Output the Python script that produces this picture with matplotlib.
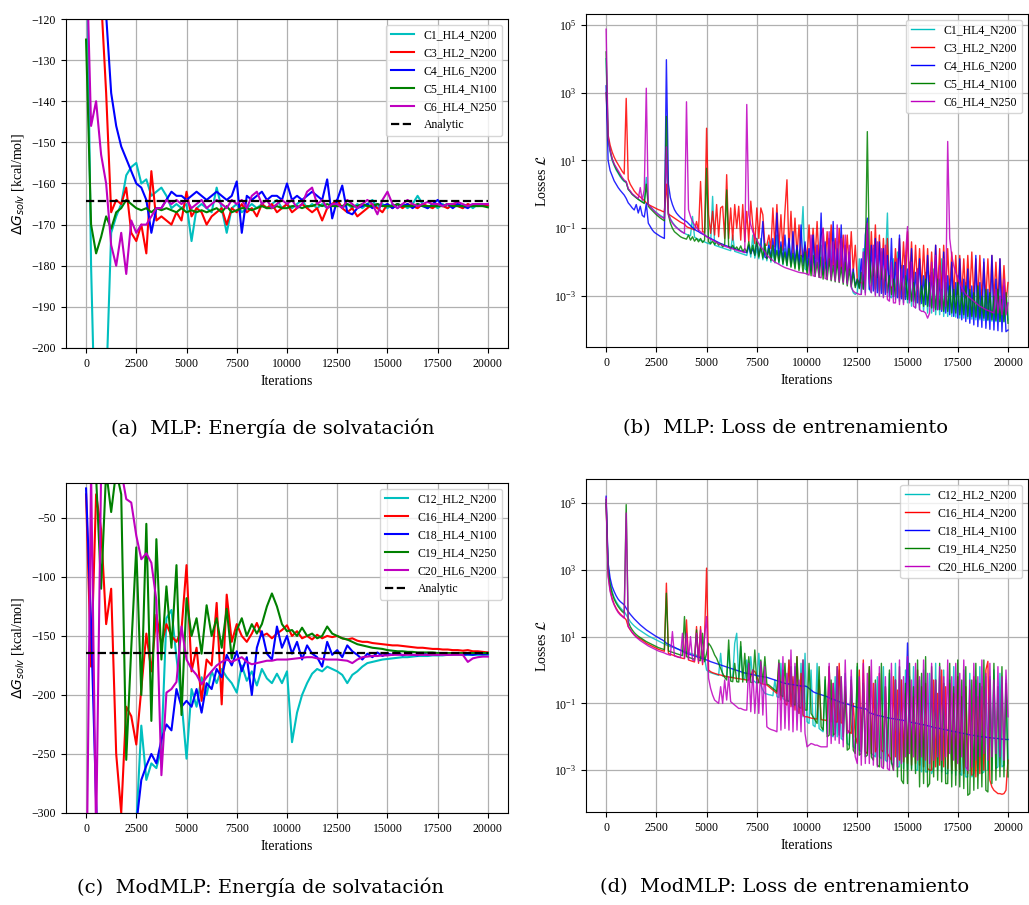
import numpy as np
import matplotlib
matplotlib.use("Agg")
import matplotlib.pyplot as plt
from matplotlib.ticker import NullLocator

plt.rcParams['font.family'] = 'serif'
plt.rcParams['font.serif'] = ['Liberation Serif', 'DejaVu Serif']

# sampling of the read-off values
E_STEP = 250   # iterations between energy samples
L_STEP = 100   # iterations between loss samples
ANALYTIC = -164.3

COLORS = ['c', 'r', 'b', 'g', 'm']

mlp_labels = ['C1_HL4_N200', 'C3_HL2_N200', 'C4_HL6_N200', 'C5_HL4_N100', 'C6_HL4_N250']
mod_labels = ['C12_HL2_N200', 'C16_HL4_N200', 'C18_HL4_N100', 'C19_HL4_N250', 'C20_HL6_N200']

# ---- (a) MLP solvation energy [kcal/mol], one value every 250 iterations
mlp_e_c1 = [-90, -180, -230, -260, -210, -172, -168, -165, -158, -156,
            -155, -160, -159, -163, -162, -161, -163, -166, -165, -166,
            -165, -174, -166, -165, -166, -167, -161, -166, -172, -166,
            -165, -167, -166, -165, -166, -165, -166, -165, -164, -166,
            -165, -166, -165, -164, -166, -165, -166, -165, -166, -165,
            -164, -166, -165, -166, -165, -166, -165, -164, -166, -165,
            -166, -165, -166, -165, -166, -165, -163, -165, -166, -165,
            -166, -165, -166, -165, -165, -166, -165, -166, -165, -165,
            -165.5]
mlp_e_c3 = [-60, -90, -105, -115, -138, -167, -164, -165, -161, -172,
            -174, -170, -177, -157, -169, -168, -169, -170, -167, -169,
            -162, -168, -166, -167, -170, -168, -167, -166, -170, -166,
            -167, -165, -167, -166, -168, -165, -166, -165, -167, -166,
            -165, -167, -166, -165, -166, -167, -166, -169, -166, -165,
            -164, -166, -167, -166, -168, -167, -166, -165, -166, -167,
            -165, -166, -165, -166, -165, -165.5, -166, -165, -165.5, -166,
            -165, -165.5, -166, -165, -165.5, -166, -165, -165.5, -165, -165.5,
            -165.3]
mlp_e_c4 = [-40, -70, -90, -105, -119, -138, -146, -151, -154, -157,
            -160, -161, -164, -172, -166, -166, -164, -162, -163, -163,
            -164, -163, -162, -163, -164, -163, -162, -163, -164, -163,
            -159.5, -172, -163, -164, -163, -162, -164, -163, -163, -164,
            -160, -164, -163, -164, -163, -162, -163, -164, -159, -168.5,
            -164, -160.5, -167, -167.5, -166, -165.5, -165, -166, -165, -165.5,
            -165, -166, -165, -165.5, -165, -166, -165, -165.5, -166, -165,
            -164, -165.5, -165, -166, -165, -165.5, -166, -165, -165.5, -165,
            -165]
mlp_e_c5 = [-125, -170, -177, -173, -168, -171, -167, -166, -164, -165,
            -166, -166.5, -166, -167, -166, -166.5, -166, -166.5, -167, -166,
            -167, -166.5, -167, -166.5, -167, -166.5, -166, -167, -165.5, -167,
            -166.5, -166, -166, -166.5, -166, -165.5, -166, -166, -165.5, -166,
            -166, -165.5, -165.5, -166, -165.5, -165.5, -165, -165.5, -165, -165.5,
            -165.5, -165.5, -165, -165.5, -165.5, -165, -165.5, -165.5, -165, -165.5,
            -165.5, -165.5, -165, -165.5, -165.5, -165.5, -165, -165.5, -165.5, -165.5,
            -165.5, -165.5, -165, -165.5, -165.5, -165.5, -165.5, -165.5, -165.5, -165.5,
            -165.8]
mlp_e_c6 = [-100, -146, -140, -153, -160, -175, -180, -172, -182, -169,
            -172, -170, -170, -168, -166, -166, -164, -165, -164, -165,
            -164, -166, -165, -164, -166, -165, -164, -165, -166, -164,
            -165, -164, -166, -163, -162, -165, -164, -166, -165, -164,
            -165, -164, -166, -165, -162, -161, -165, -164, -166, -165,
            -165, -166, -164, -165, -166, -165, -164, -165, -167.5, -164,
            -162, -165, -166, -165, -164, -165, -165.5, -165, -164.5, -165,
            -165, -165.5, -165, -165, -164.5, -165, -165.5, -165, -165, -165,
            -165]

# ---- (c) ModMLP solvation energy [kcal/mol], one value every 250 iterations
mod_e_c12 = [-500, -470, -440, -420, -400, -380, -360, -345, -330, -320,
             -310, -226, -272, -258, -262, -245, -135, -128, -168, -205,
             -254, -195, -210, -185, -200, -180, -190, -178, -185, -190,
             -198, -175, -188, -180, -192, -178, -186, -190, -182, -190,
             -180, -240, -215, -200, -190, -182, -178, -180, -176, -178,
             -180, -183, -190, -183, -180, -176, -173, -172, -171, -170,
             -169.5, -169, -168.5, -168, -168, -167.5, -167, -167, -167, -166.5,
             -166.5, -166.5, -166, -166, -166, -166, -166, -166, -166, -166,
             -166]
mod_e_c16 = [-30, -176, -30, -60, -140, -110, -250, -300, -210, -218,
             -242, -195, -148, -180, -132, -158, -140, -150, -155, -145,
             -90, -180, -160, -205, -170, -175, -122, -208, -115, -155,
             -140, -150, -155, -148, -139, -150, -148, -152, -148, -145,
             -141, -150, -146, -152, -150, -153, -149, -152, -150, -151,
             -150, -152, -153, -152, -154, -155, -155, -156, -156.5, -157,
             -157.5, -158, -158, -158.5, -159, -159.5, -160, -160, -160.5, -161,
             -161, -161.5, -161.5, -162, -162, -162.5, -162, -163, -163, -163.5,
             -164]
mod_e_c18 = [-25, -140, -290, -400, -420, -430, -430, -420, -400, -380,
             -310, -272, -260, -250, -258, -238, -225, -230, -195, -210,
             -205, -210, -195, -215, -190, -195, -178, -185, -166, -175,
             -163, -180, -168, -200, -160, -146, -165, -170, -142, -160,
             -150, -165, -155, -170, -158, -165, -168, -176, -155, -166,
             -162, -168, -158, -163, -166, -170, -165, -168, -164, -167,
             -165, -166, -164, -166.5, -165, -166, -166.5, -164.5, -166, -165,
             -166, -165, -166, -165.5, -164.5, -166, -165.5, -166, -165, -165.5,
             -165]
mod_e_c19 = [-20, -10, -15, -110, -10, -45, -10, -30, -255, -160,
             -75, -200, -55, -222, -68, -170, -108, -160, -90, -217,
             -118, -150, -135, -165, -124, -150, -135, -160, -127, -169,
             -145, -135, -150, -140, -148, -140, -125, -114, -125, -140,
             -146, -145, -150, -143, -150, -148, -152, -150, -142, -148,
             -150, -152, -153, -155, -157, -158, -159, -160, -160.5, -161,
             -162, -162.5, -163, -163, -163.5, -163.5, -164, -164, -164, -164,
             -164.5, -164.5, -164.5, -164.5, -164.5, -164.5, -164.5, -164.5, -164.5, -164.5,
             -164.5]
mod_e_c20 = [-400, -10, -320, -10, 0, 0, 0, -10, -34, -37,
             -65, -85, -80, -88, -120, -268, -198, -195, -189, -142,
             -170, -178, -183, -191, -185, -180, -175, -172, -170, -172,
             -170, -168, -172, -174, -173, -172, -171, -171, -170, -170,
             -170, -169.5, -169, -168.5, -168, -168, -169, -169.5, -170, -170,
             -170, -170.5, -171, -173, -170, -168, -167.5, -167, -167, -166.5,
             -166.5, -166, -166, -166, -166, -166, -166, -166, -166, -166,
             -166, -166, -166, -166, -166, -166, -172, -169, -168, -167.5,
             -167.5]

# ---- (b) MLP training loss, log10 of the loss every 100 iterations
mlp_l_c1 = [4.0, 1.6, 1.25, 1.0, 0.85, 0.72, 0.62, 0.52, 0.44, 0.38,
            0.35, 0.15, 0.08, 0.0, -0.05, -0.1, -0.14, -0.18, -0.22, -0.25,
            0.5, -0.3, -0.36, -0.42, -0.48, -0.53, -0.58, -0.62, -0.66, -0.7,
            1.2, -0.55, -0.72, -0.82, -0.9, -0.97, -1.02, -1.07, -1.11, -1.15,
            -1.18, -1.2, -1.22, -0.65, -1.26, -1.3, -1.33, -1.36, -1.38, -1.4,
            -1.43, -1.45, -1.47, -0.06, -1.5, -1.52, -1.54, -1.56, -1.58, -1.6,
            -1.62, -1.64, -1.66, -1.2, -1.68, -1.7, -1.72, -1.74, -1.76, -1.78,
            -1.8, -1.5, -1.85, -1.2, -1.88, -1.6, -1.9, -1.3, -1.93, -1.5,
            -1.96, -1.4, -2.0, -1.7, -2.02, -1.2, -2.05, -1.5, -2.08, -1.6,
            -2.1, -1.3, -2.12, -1.7, -2.15, -1.5, -2.18, -1.4, -0.36, -2.2,
            -2.25, -1.6, -2.28, -1.3, -2.32, -1.7, -2.35, -1.5, -2.38, -1.8,
            -2.4, -1.5, -2.42, -1.7, -2.45, -1.4, -2.5, -1.9, -2.55, -1.6,
            -2.6, -1.8, -2.7, -2.9, -2.95, -2.9, -1.9, -2.95, -1.6, -2.9,
            -1.0, -2.8, -2.9, -1.6, -2.95, -1.8, -3.0, -1.7, -3.0, -2.0,
            -0.55, -3.0, -3.05, -1.9, -3.1, -1.7, -3.15, -2.1, -3.2, -1.8,
            -3.2, -2.0, -3.3, -2.3, -3.35, -2.2, -3.4, -2.4, -3.45, -2.3,
            -3.5, -2.4, -3.5, -2.2, -3.55, -2.5, -3.55, -1.9, -3.6, -2.6,
            -3.6, -2.5, -3.6, -2.7, -3.62, -2.4, -3.65, -2.8, -3.65, -2.6,
            -3.67, -2.9, -3.68, -2.7, -3.7, -3.0, -3.7, -2.8, -3.72, -3.0,
            -3.72, -2.9, -3.74, -3.1, -3.75, -2.8, -3.75, -3.0, -3.76, -2.9,
            -3.7]
mlp_l_c3 = [3.0, 1.75, 1.45, 1.25, 1.1, 0.98, 0.88, 0.78, 0.68, 0.6,
            2.83, 0.45, 0.3, 0.2, 0.1, 0.03, -0.03, -0.08, -0.13, -0.18,
            -0.25, -0.3, -0.33, -0.36, -0.39, -0.42, -0.45, -0.47, -0.5, -0.52,
            0.3, -0.58, -0.62, -0.66, -0.7, -0.74, -0.78, -0.82, -0.85, -0.88,
            -0.95, -0.98, -1.0, -1.02, -1.05, -0.8, -1.07, 0.38, -1.1, -1.12,
            1.95, -0.6, -1.15, -0.5, -1.2, -0.3, -1.25, -0.4, -0.35, -1.3,
            0.58, -1.3, -0.4, -1.35, -0.3, -1.0, -0.35, -1.35, -0.3, -1.4,
            -0.5, -1.4, -0.2, -0.9, -1.45, -0.4, -1.3, -0.4, -0.6, -1.5,
            -1.5, -1.2, -1.6, -0.4, -1.55, -0.3, -1.6, -0.6, -1.65, -0.5,
            0.43, -1.7, -0.5, -1.75, -0.7, -1.8, -0.9, -1.8, -1.85, -1.5,
            -1.9, -0.9, -2.0, -1.0, -1.9, -0.8, -2.0, -1.2, -1.0, -2.05,
            -1.1, -2.1, -0.9, -2.1, -1.3, -2.15, -1.0, -2.2, -1.2, -2.2,
            -1.2, -2.25, -1.1, -2.3, -1.5, -2.5, -2.6, -2.6, -2.65, -2.5,
            -1.0, -2.5, -1.1, -2.4, -0.9, -2.45, -1.2, -2.5, -1.3, -2.55,
            -1.3, -2.7, -2.75, -2.7, -1.6, -2.5, -1.3, -2.6, -1.4, -2.5,
            -1.1, -2.6, -1.4, -2.7, -1.5, -2.75, -1.6, -2.8, -1.5, -2.8,
            -1.6, -2.85, -1.7, -2.9, -1.5, -2.9, -1.6, -2.95, -1.5, -2.9,
            -1.6, -2.95, -1.7, -3.0, -1.8, -2.95, -1.8, -3.0, -1.9, -3.05,
            -1.8, -3.0, -1.7, -3.05, -1.9, -3.1, -1.8, -3.1, -2.0, -3.1,
            -1.9, -3.15, -1.8, -3.1, -2.0, -3.2, -1.9, -3.15, -2.1, -3.2,
            -2.6]
mlp_l_c4 = [3.2, 1.0, 0.7, 0.55, 0.4, 0.3, 0.2, 0.12, 0.05, -0.02,
            -0.12, -0.25, -0.32, -0.4, -0.46, -0.3, -0.55, -0.35, -0.62, -0.67,
            -0.27, -0.85, -0.95, -1.05, -1.12, -1.16, -1.2, -1.24, -1.27, -1.3,
            3.97, 0.3, -0.1, -0.3, -0.45, -0.55, -0.62, -0.68, -0.73, -0.77,
            -0.8, -0.86, -0.92, -0.98, -1.03, -1.07, -1.1, -1.14, -1.17, -1.2,
            -1.24, -1.27, -1.3, -1.33, -1.36, -1.39, -1.42, -1.45, -1.47, -1.5,
            -1.52, -1.54, -1.56, -1.58, -1.6, -1.62, -1.64, -1.66, -1.68, -1.7,
            -1.72, -1.5, -1.75, -1.6, -1.78, -1.4, -1.8, -1.55, -0.8, -1.85,
            -1.88, -1.5, -1.9, -1.3, -1.92, -0.55, -1.95, -1.4, -1.98, -1.2,
            -2.0, -1.3, -2.03, -1.1, -2.05, -1.5, -2.08, -0.9, -2.1, -1.4,
            -2.2, -1.6, -2.25, -1.2, -2.3, -1.5, -2.3, -0.55, -2.35, -1.4,
            -2.4, -1.3, -2.42, -0.8, -2.45, -1.6, -2.5, -0.9, -2.55, -1.5,
            -2.6, -1.7, -2.65, -2.2, -2.7, -2.5, -2.75, -1.9, -2.78, -1.2,
            -0.7, -2.8, -1.5, -2.85, -1.3, -2.9, -1.4, -2.92, -1.6, -2.95,
            -1.8, -3.0, -1.3, -3.02, -2.0, -3.05, -1.2, -3.08, -2.1, -3.1,
            -2.2, -3.12, -1.6, -3.15, -2.3, -3.2, -1.9, -3.22, -2.4, -3.25,
            -1.8, -3.3, -2.3, -3.35, -1.5, -3.4, -2.5, -3.45, -1.7, -3.5,
            -2.4, -3.55, -2.0, -3.6, -2.6, -3.65, -1.9, -3.7, -2.5, -3.75,
            -2.2, -3.8, -2.7, -3.85, -1.8, -3.9, -2.6, -3.92, -1.9, -3.95,
            -2.8, -3.98, -1.8, -4.0, -2.5, -4.02, -1.9, -4.05, -2.7, -4.05,
            -4.0]
mlp_l_c5 = [4.2, 1.65, 1.3, 1.05, 0.88, 0.75, 0.65, 0.55, 0.47, 0.4,
            0.36, 0.15, 0.08, 0.0, -0.05, -0.1, -0.15, -0.19, -0.23, -0.27,
            0.3, -0.35, -0.42, -0.48, -0.54, -0.6, -0.65, -0.7, -0.74, -0.78,
            2.3, -0.6, -0.85, -1.0, -1.1, -1.15, -1.2, -1.25, -1.28, -1.3,
            -1.32, -1.2, -1.35, -1.25, -1.38, -1.3, -1.4, -1.3, -1.42, -1.35,
            0.77, -1.4, -1.45, -1.38, -1.48, -1.4, -1.5, -1.45, -1.55, -1.48,
            0.13, -1.55, -1.6, -1.5, -1.62, -1.55, -1.65, -1.52, -1.68, -1.6,
            -1.7, -1.4, -1.75, -1.5, -1.8, -1.3, -1.85, -1.55, -1.88, -1.45,
            -1.9, -1.6, -1.95, -1.5, -1.98, -1.65, -2.0, -1.55, -2.05, -1.7,
            -2.1, -1.6, -2.15, -1.75, -2.2, -1.65, -2.25, -1.8, -2.3, -1.7,
            -2.35, -1.9, -2.4, -1.8, -2.42, -2.0, -2.45, -1.85, -2.5, -2.0,
            -2.52, -1.9, -2.55, -2.1, -2.58, -1.95, -2.6, -2.15, -2.65, -2.0,
            -2.7, -2.2, -2.72, -2.3, -2.75, -2.5, -2.78, -2.3, -2.8, -2.1,
            1.85, -1.8, -2.7, -2.0, -2.8, -1.9, -2.85, -2.1, -2.9, -2.2,
            -2.9, -2.4, -2.95, -2.5, -3.0, -2.3, -3.05, -2.6, -3.1, -2.4,
            -3.1, -2.5, -3.15, -2.6, -3.2, -2.4, -3.25, -2.7, -3.3, -2.5,
            -3.3, -2.6, -3.35, -2.7, -3.4, -2.5, -3.4, -2.8, -3.45, -2.6,
            -3.45, -2.7, -3.5, -2.8, -3.5, -2.6, -3.55, -2.9, -3.55, -2.7,
            -3.6, -2.8, -3.6, -2.9, -3.62, -2.7, -3.65, -3.0, -3.65, -2.8,
            -3.7, -2.9, -3.7, -3.0, -3.72, -2.8, -3.75, -3.1, -3.75, -2.9,
            -3.8]
mlp_l_c6 = [4.87, 1.7, 1.3, 1.05, 0.9, 0.8, 0.7, 0.6, 0.5, 0.42,
            0.38, 0.17, 0.1, 0.02, -0.03, -0.08, -0.12, 0.2, -0.18, 0.15,
            3.13, -0.3, -0.37, -0.43, -0.5, -0.55, -0.6, -0.65, -0.68, -0.72,
            1.4, -0.6, -0.75, -0.85, -0.92, -0.98, -1.03, -1.08, -1.12, -1.15,
            2.73, -0.45, -0.65, -0.8, -0.9, -0.98, -1.05, -1.1, -1.15, -1.2,
            -1.25, -1.28, -1.32, -1.35, -1.38, -1.42, -1.45, -1.48, -1.5, -1.53,
            -1.55, -1.57, -1.59, -1.61, -1.63, -1.65, -1.67, -1.68, -1.7, -1.72,
            2.65, -0.6, -0.9, -1.1, -1.25, -1.35, -1.45, -1.55, -1.62, -1.7,
            -1.8, -1.85, -1.9, -1.95, -2.0, -2.03, -2.06, -2.1, -2.13, -2.16,
            -2.18, -2.2, -2.22, -2.24, -2.26, -2.28, -2.3, -2.31, -2.32, -2.33,
            -2.35, -2.38, -1.2, -2.4, -2.42, -1.5, -2.44, -2.46, -1.0, -2.48,
            -2.5, -1.1, -2.52, -1.4, -2.55, -0.9, -2.58, -1.3, -2.6, -1.2,
            -2.65, -1.5, -2.75, -2.85, -2.9, -2.92, -2.95, -2.95, -1.7, -2.97,
            -0.85, -2.6, -2.9, -1.5, -3.0, -1.4, -3.0, -1.6, -3.05, -1.5,
            -3.1, -3.15, -2.0, -3.2, -3.2, -1.9, -3.25, -2.2, -3.25, -1.8,
            -0.95, -3.2, -2.0, -3.3, -3.35, -2.2, -3.4, -3.45, -3.45, -3.5,
            -3.65, -3.5, -2.0, -3.45, -1.8, -3.4, -2.1, -3.4, -1.9, -3.3,
            1.56, -1.3, -1.8, -2.1, -2.3, -2.45, -2.6, -2.75, -2.85, -2.95,
            -3.0, -3.05, -3.1, -3.15, -3.2, -3.25, -3.3, -3.33, -3.36, -3.4,
            -3.42, -3.45, -3.47, -3.5, -2.8, -3.5, -3.0, -3.55, -2.5, -3.55,
            -3.2]

# ---- (d) ModMLP training loss, log10 of the loss every 100 iterations
mod_l_c12 = [5.0, 3.05, 2.6, 2.35, 2.17, 2.05, 1.95, 1.87, 1.8, 1.75,
             1.65, 1.55, 1.45, 1.38, 1.32, 1.27, 1.22, 1.18, 1.14, 1.1,
             1.06, 1.02, 0.99, 0.96, 0.93, 0.9, 0.87, 0.84, 0.81, 0.78,
             0.75, 0.72, 0.7, 0.68, 0.66, 0.64, 0.62, 0.6, 0.58, 0.56,
             0.54, 0.52, 0.5, 0.48, 0.46, 0.44, 0.42, 0.4, 0.38, 0.36,
             0.0, -0.05, -0.08, -0.1, -0.12, -0.14, -0.16, 0.5, -0.18, -0.2,
             -0.2, 0.6, -0.22, -0.22, 0.8, 1.1, -0.25, 0.7, -0.26, -0.27,
             0.3, -0.28, 0.4, -0.3, -0.35, -0.4, 0.5, -0.45, -0.6, -0.7,
             -0.72, -0.74, -0.75, -0.77, -0.3, -0.8, -0.82, 0.2, -0.85, -0.9,
             -0.95, 0.3, -1.0, -1.1, 0.1, -1.2, -1.3, 0.2, -1.4, 0.5,
             -1.55, -1.6, 0.0, -1.65, -1.7, 0.2, -1.75, -1.8, -1.85, -0.3,
             -1.9, 0.1, -1.95, -2.0, -0.2, -2.0, 0.0, -2.05, -2.1, -0.1,
             -2.2, -2.25, -0.2, -2.3, -2.35, 0.1, -2.4, -2.45, -0.3, -2.5,
             -2.45, 0.0, -2.5, -2.55, -2.6, -0.2, -2.6, -2.65, 0.1, -2.7,
             -2.75, -0.1, -2.8, -2.85, 0.2, -2.9, -2.9, -0.3, -2.95, 0.0,
             -3.0, -0.2, -2.95, 0.1, -3.0, -3.0, -0.3, -3.05, 0.0, -3.05,
             -3.05, -0.1, -3.1, -2.9, 0.2, -3.0, -0.2, -3.05, 0.0, -3.1,
             -3.1, -0.3, -3.1, 0.1, -3.15, -0.2, -3.1, -3.15, 0.0, -3.2,
             -3.2, -0.1, -3.2, -3.1, -0.3, -3.15, 0.1, -3.1, -3.05, -0.2,
             -3.0, -0.2, -3.0, 0.0, -2.95, -2.9, -0.1, -2.9, -2.85, -0.3,
             -2.8]
mod_l_c16 = [5.0, 2.85, 2.4, 2.15, 1.97, 1.85, 1.75, 1.68, 1.62, 1.57,
             1.5, 1.3, 1.2, 1.12, 1.05, 1.0, 0.96, 0.93, 0.89, 0.85,
             0.8, 0.77, 0.74, 0.71, 0.68, 0.65, 0.62, 0.6, 0.58, 0.56,
             2.6, 0.5, 0.47, 0.45, 0.43, 0.41, 0.39, 0.37, 0.35, 0.34,
             1.5, 0.3, 0.28, 0.26, 0.24, 1.3, 0.2, 1.3, 0.16, 1.0,
             3.05, 0.0, -0.05, -0.08, -0.1, -0.12, -0.14, -0.15, -0.17, -0.18,
             -0.2, -0.21, -0.22, -0.23, -0.24, -0.25, -0.26, -0.27, -0.28, -0.29,
             -0.3, -0.3, -0.2, 0.0, -0.05, -0.2, -0.35, -0.4, -0.42, -0.43,
             -0.45, -0.5, -0.55, -0.6, -0.65, -0.7, 0.2, -0.9, 0.0, -1.0,
             -1.05, 0.3, -1.1, -0.2, -1.2, 0.4, -1.3, -0.1, -1.35, -1.4,
             -1.4, -1.42, -1.44, -1.45, -1.46, -1.47, -0.3, -1.48, -1.5, -1.5,
             -1.52, 0.1, -1.55, -0.4, -1.55, -1.56, 0.2, -1.58, -1.6, -0.6,
             -1.8, -1.85, -1.9, -1.0, -2.0, -2.2, 0.0, -2.4, 0.3, -2.45,
             -2.5, 0.1, -2.5, -0.4, -2.45, -2.3, -0.1, -2.4, -2.45, -0.5,
             -2.5, -2.6, -2.7, -0.2, -2.6, -0.6, -2.7, -0.3, -2.75, -0.7,
             -2.8, -0.3, -2.85, -0.8, -2.8, 0.0, -2.85, -0.5, -2.9, -0.4,
             -2.95, -3.0, -3.0, -0.3, -2.9, -0.7, -2.85, 0.0, -2.9, -0.5,
             -2.95, -0.4, -3.0, -0.7, -3.0, -0.2, -3.05, -0.8, -3.1, -0.5,
             -3.1, -0.6, -3.15, -0.2, -3.2, -0.8, -3.1, -0.5, -3.0, 0.0,
             0.26, -3.3, -3.5, -3.6, -3.65, -3.7, -3.7, -3.72, -3.7, -3.6,
             -2.7]
mod_l_c18 = [5.2, 3.2, 2.75, 2.5, 2.35, 2.22, 2.12, 2.05, 2.0, 1.95,
             1.85, 1.75, 1.67, 1.6, 1.53, 1.47, 1.41, 1.35, 1.3, 1.25,
             1.2, 1.16, 1.12, 1.08, 1.04, 1.0, 0.97, 0.93, 0.9, 0.86,
             0.8, 0.77, 0.74, 0.71, 0.68, 0.65, 0.62, 0.59, 0.56, 0.53,
             0.5, 0.48, 0.46, 0.44, 0.42, 0.4, 0.38, 0.36, 0.34, 0.32,
             0.3, 0.28, 0.25, 0.23, 0.21, 0.19, 0.17, 0.15, 0.13, 0.11,
             0.09, 0.07, 0.05, 0.03, 0.01, -0.01, -0.03, -0.05, -0.07, -0.09,
             -0.1, -0.11, -0.13, -0.14, -0.15, -0.17, -0.18, -0.19, -0.2, -0.21,
             -0.22, -0.24, -0.26, -0.28, -0.3, -0.32, -0.34, -0.36, -0.38, -0.4,
             -0.41, -0.42, -0.43, -0.44, -0.45, -0.46, -0.47, -0.48, -0.48, -0.48,
             -0.5, -0.55, -0.6, -0.65, -0.68, -0.7, -0.72, -0.74, -0.76, -0.78,
             -0.8, -0.83, -0.86, -0.88, -0.9, -0.92, -0.95, -0.97, -0.99, -1.01,
             -1.02, -1.04, -1.06, -1.08, -1.1, -1.12, -1.13, -1.14, -1.15, -1.16,
             -1.2, -1.28, -1.3, -1.32, -1.34, -1.36, -1.37, -1.38, -1.4, -1.41,
             -1.43, -1.44, -1.45, -1.46, -1.47, -1.48, -1.49, -1.5, -1.51, -1.52,
             0.81, -1.55, -1.57, -1.58, -1.59, -1.6, -1.62, -1.63, -1.64, -1.65,
             -1.67, -1.68, -1.7, -1.72, -1.73, -1.74, -1.75, -1.76, -1.78, -1.79,
             -1.8, -1.82, -1.83, -1.84, -1.85, -1.86, -1.88, -1.89, -1.9, -1.91,
             -1.93, -1.94, -1.95, -1.96, -1.97, -1.98, -1.99, -2.0, -2.0, -2.01,
             -2.02, -2.03, -2.03, -2.04, -2.05, -2.05, -2.06, -2.07, -2.07, -2.08,
             -2.08]
mod_l_c19 = [5.1, 3.0, 2.55, 2.3, 2.12, 2.0, 1.9, 1.82, 1.75, 1.7,
             4.95, 1.45, 1.3, 1.2, 1.12, 1.06, 1.01, 0.97, 0.93, 0.89,
             0.85, 0.82, 0.79, 0.76, 0.73, 0.7, 0.67, 0.65, 0.63, 0.61,
             2.3, 0.57, 0.55, 0.53, 0.51, 0.49, 0.47, 0.45, 0.43, 1.6,
             0.4, 0.38, 0.36, 0.34, 0.32, 1.2, 0.3, 0.28, 1.1, 0.25,
             0.5, 0.8, 0.72, 0.6, 0.45, 0.35, 0.2, 0.05, -0.1, -0.22,
             -0.3, 0.9, -0.33, -0.35, 0.2, -0.35, -0.36, 0.85, -0.36, 0.5,
             -0.37, 0.4, -0.37, -0.38, 0.6, -0.38, -0.38, 0.3, -0.39, 0.4,
             -0.42, -0.45, -0.5, -0.55, -0.6, -0.65, 0.3, -0.75, -0.8, 0.2,
             -0.9, -0.95, 0.1, -1.0, -1.05, 0.4, -1.1, -1.15, 0.3, -1.2,
             -1.2, 0.2, -1.3, -1.4, -1.5, -1.6, 0.1, -1.7, -1.8, -0.2,
             -2.0, -1.95, -0.3, -1.95, -1.9, 0.1, -1.95, -0.2, -2.0, -0.5,
             -2.4, -2.35, -0.3, -2.4, -2.5, 0.2, -2.55, -2.5, -0.4, -2.6,
             -2.55, 0.1, -2.6, -2.7, -0.3, -2.85, -2.9, 0.2, -2.9, -0.5,
             -2.7, 0.0, -2.75, -3.0, -0.3, -3.2, 0.1, -3.3, -3.4, -0.4,
             -3.4, 0.2, -3.0, -0.5, -3.1, 0.3, -3.5, -0.1, -3.4, 0.4,
             -3.5, -3.4, 0.1, -3.2, -0.3, -3.3, 0.2, -3.35, -0.4, -3.4,
             -3.4, 0.2, -3.5, -0.5, -3.45, 0.3, -3.5, -0.3, -3.55, 0.1,
             -3.75, -3.7, -0.3, -3.6, 0.2, -3.55, -0.4, -3.5, 0.3, -3.6,
             -3.65, -0.3, -3.4, 0.2, -3.3, -0.5, -3.2, 0.1, -3.2, -0.4,
             -3.2]
mod_l_c20 = [5.15, 2.8, 2.35, 2.1, 1.95, 1.82, 1.72, 1.65, 1.6, 1.55,
             4.7, 1.3, 1.22, 1.12, 1.05, 0.98, 0.93, 0.88, 0.84, 0.8,
             0.76, 0.72, 0.69, 0.66, 0.63, 0.6, 0.57, 0.55, 0.53, 0.51,
             0.48, 0.46, 0.44, 1.15, 0.42, 0.4, 0.38, 0.37, 1.1, 0.35,
             1.1, 0.32, 1.0, 0.3, 0.28, 1.1, 0.25, 1.2, 0.22, 1.0,
             1.6, -0.25, -0.55, -0.75, -0.9, -0.95, -1.0, -0.5, -1.0, -0.3,
             -0.9, -0.2, -0.95, -1.0, -1.05, -1.1, -1.15, -1.15, -1.18, -1.2,
             -1.2, 0.2, -1.25, 0.0, -1.3, -0.3, -1.3, 0.25, -1.35, 0.1,
             -1.7, -1.75, -1.78, -1.8, -1.82, -1.85, 0.2, -1.8, 0.4, -1.75,
             -0.1, -1.8, 0.6, -1.85, 0.2, -1.8, -0.3, -1.85, 0.3, -1.9,
             -2.3, -2.25, -2.2, -2.22, -2.25, -2.25, -2.28, -2.3, -2.3, -2.3,
             -2.3, 0.2, -2.2, -0.4, -2.1, 0.1, -2.2, -0.2, -2.3, 0.3,
             -1.9, -1.85, 0.0, -1.9, -2.6, -2.8, -0.2, -2.85, 0.2, -2.8,
             -0.1, -2.8, 0.3, -2.85, -0.4, -2.9, 0.1, -2.9, -2.95, -0.2,
             -2.95, -3.0, 0.2, -3.0, -0.3, -2.9, 0.3, -2.8, -0.2, -2.6,
             0.4, -2.5, -0.3, -2.6, 0.2, -2.7, -0.2, -2.6, 0.3, -2.7,
             -0.1, -2.8, 0.2, -2.7, -0.3, -2.6, 0.1, -2.7, -0.2, -2.6,
             0.3, -2.5, -0.2, -2.7, 0.2, -2.8, -0.1, -2.6, 0.3, -2.9,
             -3.0, -0.3, -2.9, 0.2, -2.7, -0.2, -2.6, 0.3, -2.5, -0.1,
             -2.7, 0.2, -2.6, -0.3, -2.5, 0.1, -2.6, -0.2, -2.7, 0.0,
             -1.4]

mlp_energy = [mlp_e_c1, mlp_e_c3, mlp_e_c4, mlp_e_c5, mlp_e_c6]
mod_energy = [mod_e_c12, mod_e_c16, mod_e_c18, mod_e_c19, mod_e_c20]
mlp_loss = [mlp_l_c1, mlp_l_c3, mlp_l_c4, mlp_l_c5, mlp_l_c6]
mod_loss = [mod_l_c12, mod_l_c16, mod_l_c18, mod_l_c19, mod_l_c20]

XTICKS = np.arange(0, 20001, 2500)


def draw_energy(ax, series, labels, ylim, yticks):
    x_end = 0
    for vals, lab, col in zip(series, labels, COLORS):
        x = np.arange(len(vals)) * E_STEP
        x_end = max(x_end, x[-1])
        ax.plot(x, vals, color=col, lw=1.5, label=lab)
    ax.hlines(ANALYTIC, 0, x_end, colors='k', linestyles='--', lw=1.6, label='Analytic')
    ax.set_xlim(-1000, 21000)
    ax.set_ylim(*ylim)
    ax.set_yticks(yticks)
    ax.set_xticks(XTICKS)
    ax.grid(True, color='#b0b0b0', lw=0.9)
    ax.set_xlabel('Iterations', fontsize=10)
    ax.set_ylabel(r'$\Delta G_{solv}$ [kcal/mol]', fontsize=10)
    ax.tick_params(labelsize=8.5)
    ax.legend(loc='upper right', fontsize=8.5, framealpha=0.8)


def draw_loss(ax, series, labels, ylim):
    for vals, lab, col in zip(series, labels, COLORS):
        x = np.arange(len(vals)) * L_STEP
        ax.plot(x, 10.0 ** np.array(vals), color=col, lw=1.0, alpha=0.85, label=lab)
    ax.set_yscale('log')
    ax.set_xlim(-1000, 21000)
    ax.set_ylim(*ylim)
    ax.set_yticks([1e-3, 1e-1, 1e1, 1e3, 1e5])
    ax.yaxis.set_minor_locator(NullLocator())
    ax.set_xticks(XTICKS)
    ax.grid(True, color='#b0b0b0', lw=0.9)
    ax.set_xlabel('Iterations', fontsize=10)
    ax.set_ylabel(r'Losses $\mathcal{L}$', fontsize=10)
    ax.tick_params(labelsize=8.5)
    leg = ax.legend(loc='upper right', fontsize=8.5, framealpha=0.8)
    for h in leg.get_lines():
        h.set_alpha(1.0)


fig = plt.figure(figsize=(10.29, 9.05), dpi=100)

ax_a = fig.add_axes([0.0641, 0.6155, 0.4296, 0.3635])
ax_b = fig.add_axes([0.5695, 0.6166, 0.4296, 0.3680])
ax_c = fig.add_axes([0.0641, 0.1017, 0.4296, 0.3646])
ax_d = fig.add_axes([0.5695, 0.1028, 0.4296, 0.3680])

draw_energy(ax_a, mlp_energy, mlp_labels, (-200, -120), np.arange(-200, -119, 10))
draw_loss(ax_b, mlp_loss, mlp_labels, (10 ** -4.5, 10 ** 5.32))
draw_energy(ax_c, mod_energy, mod_labels, (-300, -20.4), np.arange(-300, -49, 50))
draw_loss(ax_d, mod_loss, mod_labels, (10 ** -4.25, 10 ** 5.72))

cap_font = dict(fontsize=14, family='DejaVu Serif', ha='center', va='center')
fig.text(0.265, 0.527, '(a)  MLP: Energía de solvatación', **cap_font)
fig.text(0.763, 0.527, '(b)  MLP: Loss de entrenamiento', **cap_font)
fig.text(0.253, 0.020, '(c)  ModMLP: Energía de solvatación', **cap_font)
fig.text(0.762, 0.020, '(d)  ModMLP: Loss de entrenamiento', **cap_font)

fig.savefig('out.png', dpi=100)
